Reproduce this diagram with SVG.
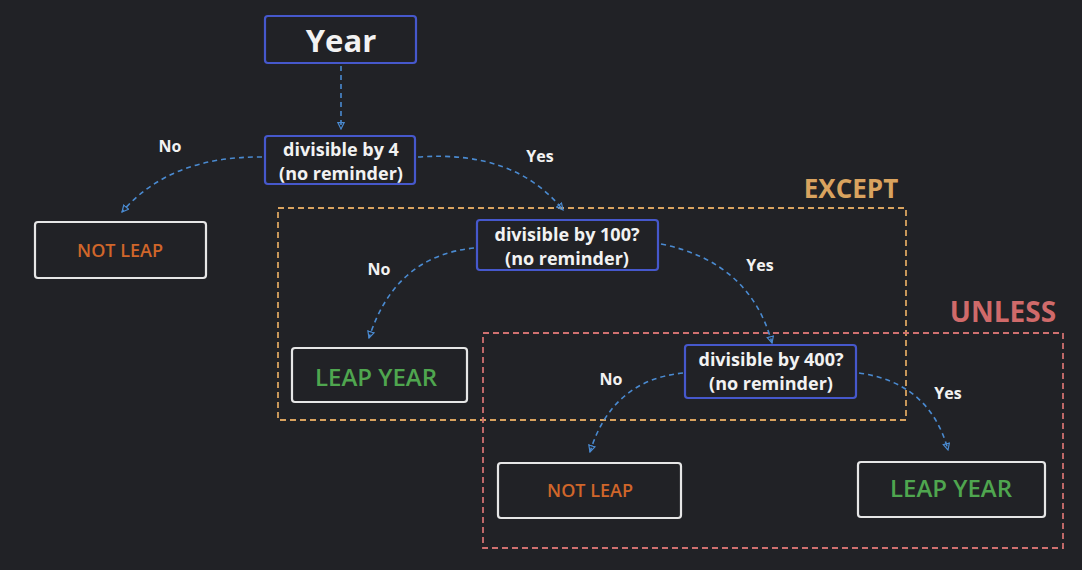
<svg xmlns="http://www.w3.org/2000/svg" width="1082" height="570" viewBox="0 0 1082 570">
<defs>
<marker id="ah" viewBox="0 0 10 10" refX="9" refY="5" markerWidth="8" markerHeight="8" orient="auto" markerUnits="userSpaceOnUse">
<path d="M1,1 L9,5 L1,9 Z" fill="none" stroke="#4a8ad0" stroke-width="1.5"/>
</marker>
<style>
.bg{fill:#212226}
.dec{fill:none;stroke:#4658cc;stroke-width:2.2}
.res{fill:none;stroke:#e6e6e6;stroke-width:2.2}
.t{font-family:"Open Sans","Liberation Sans",sans-serif;font-weight:700;text-anchor:middle;dominant-baseline:central}
.w{fill:#f2f2f2;font-size:18px}
.lbl{fill:#f2f2f2;font-size:16px}
.ora{fill:#d0662a;font-size:18px;font-weight:600}
.grn{fill:#4fa64f;font-size:24px;font-weight:600}
.conn path{fill:none;stroke:#4a8ad0;stroke-width:1.6;stroke-dasharray:5 4;marker-end:url(#ah)}
</style>
</defs>
<rect class="bg" x="0" y="0" width="1082" height="570"/>
<g id="except-group">
<rect x="278" y="208" width="628" height="212" fill="none" stroke="#d9a35f" stroke-width="1.8" stroke-dasharray="6 4"/>
<text class="t" x="851" y="188" fill="#d9a35f" font-size="26" font-weight="600">EXCEPT</text>
</g>
<g id="unless-group">
<rect x="483" y="333" width="580" height="215" fill="none" stroke="#d07070" stroke-width="1.8" stroke-dasharray="6 4"/>
<text class="t" x="1003" y="311" fill="#d06a6a" font-size="28" font-weight="600">UNLESS</text>
</g>
<g id="connectors" class="conn">
<path d="M341,66 L341,129"/>
<path d="M262,157 Q170,156 122,212"/>
<path d="M418,157 Q515,150 563,210"/>
<path d="M474,248 Q395,256 369,338"/>
<path d="M661,244 Q750,262 772,343"/>
<path d="M683,373 Q612,380 590,452"/>
<path d="M859,373 Q930,383 948,450"/>
</g>
<g id="labels">
<text class="t lbl" x="170" y="146">No</text>
<text class="t lbl" x="540" y="156">Yes</text>
<text class="t lbl" x="379" y="269">No</text>
<text class="t lbl" x="760" y="265">Yes</text>
<text class="t lbl" x="611" y="379">No</text>
<text class="t lbl" x="948" y="393">Yes</text>
</g>
<g id="year">
<rect class="dec" x="265" y="16" width="151" height="47" rx="3"/>
<text class="t" x="341" y="40" fill="#f2f2f2" font-size="31">Year</text>
</g>
<g id="div4">
<rect class="dec" x="265" y="136" width="150" height="48" rx="3"/>
<text class="t w" x="341" y="149">divisible by 4</text>
<text class="t w" x="341" y="173">(no reminder)</text>
</g>
<g id="notleap1">
<rect class="res" x="35" y="222" width="171" height="56" rx="3"/>
<text class="t ora" x="120" y="250">NOT LEAP</text>
</g>
<g id="div100">
<rect class="dec" x="477" y="220" width="181" height="50" rx="3"/>
<text class="t w" x="567" y="234">divisible by 100?</text>
<text class="t w" x="567" y="258">(no reminder)</text>
</g>
<g id="leapyear1">
<rect class="res" x="292" y="348" width="175" height="54" rx="3"/>
<text class="t grn" x="376" y="376">LEAP YEAR</text>
</g>
<g id="div400">
<rect class="dec" x="685" y="345" width="171" height="53" rx="3"/>
<text class="t w" x="771" y="359">divisible by 400?</text>
<text class="t w" x="771" y="383">(no reminder)</text>
</g>
<g id="notleap2">
<rect class="res" x="498" y="463" width="183" height="55" rx="3"/>
<text class="t ora" x="590" y="490">NOT LEAP</text>
</g>
<g id="leapyear2">
<rect class="res" x="858" y="462" width="187" height="55" rx="3"/>
<text class="t grn" x="951" y="487">LEAP YEAR</text>
</g>
</svg>
